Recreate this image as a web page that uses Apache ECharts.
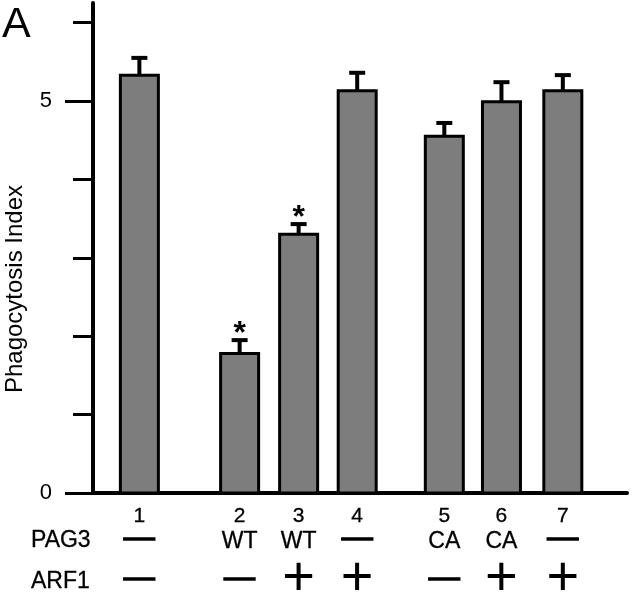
<!DOCTYPE html>
<html>
<head>
<meta charset="utf-8">
<script src="https://cdn.jsdelivr.net/npm/echarts@6/dist/echarts.min.js"></script>
<style>
html,body{margin:0;padding:0;background:#fff;}
#chart{width:640px;height:597px;}
</style>
</head>
<body>
<div id="chart"></div>
<script>
// ---- data ----
const lanes = ['1', '2', '3', '4', '5', '6', '7'];
const lanePos = [0.99, 3.13, 4.39, 5.64, 7.50, 8.72, 10.03];
const phagoIndex = [5.33, 1.78, 3.30, 5.13, 4.55, 4.99, 5.13];
const sem = [0.22, 0.17, 0.13, 0.23, 0.17, 0.25, 0.20];
const significant = [0, 1, 1, 0, 0, 0, 0];
const pag3 = ['—', 'WT', 'WT', '—', 'CA', 'CA', '—'];
const arf1 = ['—', '—', '+', '+', '—', '+', '+'];
const yMinorTicks = [1, 2, 3, 4, 6];
const yLabelTicks = [0, 5];
const yAxisTitle = 'Phagocytosis Index';
const rowNames = ['PAG3', 'ARF1'];
const panelLetter = 'A';

const FONT = '"Liberation Sans", Arial, Helvetica, sans-serif';

function signText(s, x, y) {
  if (s === '—') {
    return {type: 'text', x: x, y: y, style: {text: s, font: '31px ' + FONT, fill: '#000',
      stroke: '#000', lineWidth: 1.4, align: 'center', verticalAlign: 'middle'}};
  }
  if (s === '+') {
    return {type: 'text', x: x, y: y, style: {text: s, font: '56px ' + FONT, fill: '#000',
      align: 'center', verticalAlign: 'middle'}};
  }
  return {type: 'text', x: x, y: y, style: {text: s, font: '23px ' + FONT, fill: '#000',
    stroke: '#000', lineWidth: 0.3, align: 'center', verticalAlign: 'middle'}};
}

function renderItem(params, api) {
  const i = params.dataIndex;
  const x = api.value(0), v = api.value(1), e = api.value(2), star = api.value(3);
  const base = api.coord([x, 0]);
  const top = api.coord([x, v]);
  const errTop = api.coord([x, v + e]);
  const w = 38;
  const cx = top[0];
  const children = [
    {type: 'line', shape: {x1: cx, y1: top[1], x2: cx, y2: errTop[1]}, style: {stroke: '#000', lineWidth: 4}},
    {type: 'line', shape: {x1: cx - 8, y1: errTop[1], x2: cx + 8, y2: errTop[1]}, style: {stroke: '#000', lineWidth: 4}},
    {type: 'rect', shape: {x: cx - w / 2, y: top[1], width: w, height: base[1] - top[1]},
      style: {fill: '#7d7d7d', stroke: '#000', lineWidth: 3}}
  ];
  if (star) {
    children.push({type: 'text', x: cx, y: errTop[1] - 6,
      style: {text: '*', font: 'bold 32px ' + FONT, fill: '#000', align: 'center', verticalAlign: 'middle'}});
  }
  children.push({type: 'text', x: cx, y: base[1] + 23,
    style: {text: lanes[i], font: '21px ' + FONT, fill: '#000', stroke: '#000', lineWidth: 0.3,
      align: 'center', verticalAlign: 'middle'}});
  const p = pag3[i] === '—' ? signText(pag3[i], cx, base[1] + 45) : signText(pag3[i], cx, base[1] + 49);
  children.push(p);
  const a = arf1[i] === '—' ? signText(arf1[i], cx, base[1] + 85) : signText(arf1[i], cx, base[1] + 87);
  children.push(a);
  return {type: 'group', children: children};
}

const chart = echarts.init(document.getElementById('chart'), null, {renderer: 'canvas'});
chart.setOption({
  animation: false,
  backgroundColor: '#fff',
  grid: {left: 93, right: 13, top: 3, bottom: 104, containLabel: false},
  xAxis: {
    type: 'value', min: 0, max: 11.4,
    axisLine: {show: true, lineStyle: {color: '#000', width: 4}},
    axisTick: {show: false}, axisLabel: {show: false}, splitLine: {show: false}
  },
  yAxis: [
    {
      type: 'value', min: 0, max: 6.25, position: 'left',
      axisLine: {show: true, lineStyle: {color: '#000', width: 4}},
      axisTick: {show: true, customValues: yMinorTicks, length: 20, lineStyle: {color: '#000', width: 3}},
      axisLabel: {show: false}, splitLine: {show: false}
    },
    {
      type: 'value', min: 0, max: 6.25, position: 'left', offset: 0,
      axisLine: {show: false},
      axisTick: {show: true, customValues: yLabelTicks, length: 28, lineStyle: {color: '#000', width: 3}},
      axisLabel: {show: true, customValues: yLabelTicks, margin: 41, color: '#000', fontSize: 22, fontFamily: FONT},
      splitLine: {show: false}
    }
  ],
  series: [{
    type: 'custom',
    clip: false,
    renderItem: renderItem,
    encode: {x: 0, y: 1},
    data: lanePos.map((x, i) => [x, phagoIndex[i], sem[i], significant[i]])
  }],
  graphic: [
    {type: 'text', left: 2, top: 4, style: {text: panelLetter, font: '43px ' + FONT, fill: '#000'}},
    {type: 'text', x: 15, y: 289, rotation: Math.PI / 2,
      style: {text: yAxisTitle, font: '24px ' + FONT, fill: '#000', align: 'center', verticalAlign: 'middle'}},
    {type: 'text', x: 31, y: 541, style: {text: rowNames[0], font: '23px ' + FONT, fill: '#000',
      stroke: '#000', lineWidth: 0.3, verticalAlign: 'middle'}},
    {type: 'text', x: 31, y: 582, style: {text: rowNames[1], font: '23px ' + FONT, fill: '#000',
      stroke: '#000', lineWidth: 0.3, verticalAlign: 'middle'}}
  ]
});
</script>
</body>
</html>
